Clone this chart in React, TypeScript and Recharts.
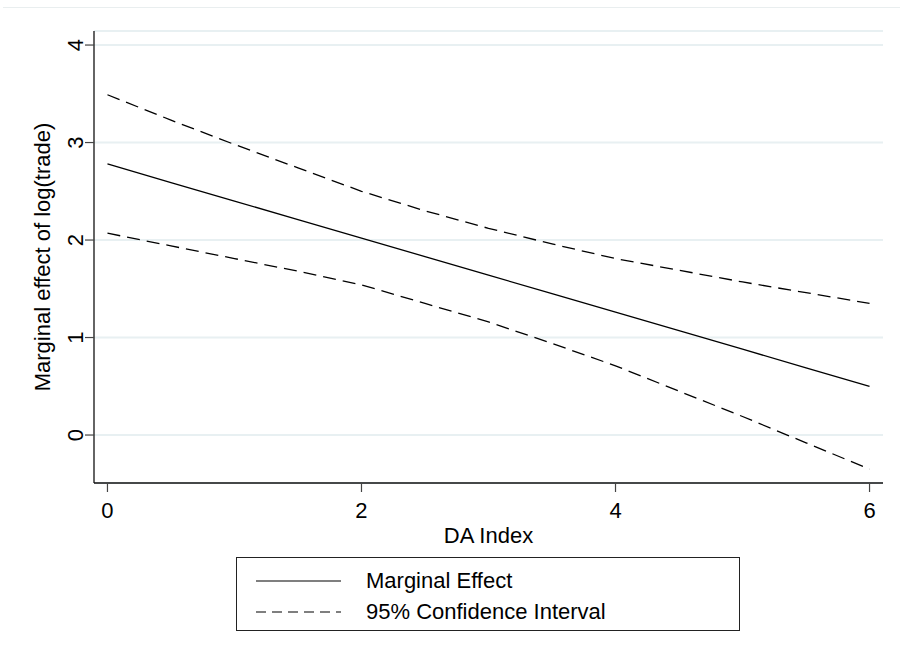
import React from "react";
import { LineChart, Line, XAxis, YAxis, CartesianGrid, Legend } from "recharts";

const daIndex = [0, 0.5, 1, 1.5, 2, 2.5, 3, 3.5, 4, 4.5, 5, 5.5, 6];
const marginalEffect = [2.78, 2.59, 2.40, 2.21, 2.02, 1.83, 1.64, 1.45, 1.26, 1.07, 0.88, 0.69, 0.50];
const ciUpper = [3.49, 3.23, 2.98, 2.74, 2.50, 2.30, 2.12, 1.96, 1.81, 1.69, 1.57, 1.46, 1.35];
const ciLower = [2.07, 1.94, 1.81, 1.68, 1.54, 1.35, 1.16, 0.94, 0.71, 0.45, 0.19, -0.08, -0.35];
const xTicks = [0, 2, 4, 6];
const yTicks = [0, 1, 2, 3, 4];
const legendOrder = ["me", "hi"];

const data = daIndex.map((x, i) => ({
  x,
  me: marginalEffect[i],
  hi: ciUpper[i],
  lo: ciLower[i],
}));

const FONT = "'Liberation Sans', Arial, Helvetica, sans-serif";
const FS = 22;

const XTick = (props: any) => {
  const { x, y, payload } = props;
  return (
    <text x={x} y={y + 24} textAnchor="middle" fontSize={FS} fontFamily={FONT} fill="#000">
      {payload.value}
    </text>
  );
};

const YTick = (props: any) => {
  const { x, y, payload } = props;
  return (
    <text
      x={x}
      y={y}
      textAnchor="middle"
      fontSize={FS}
      fontFamily={FONT}
      fill="#000"
      transform={`rotate(-90, ${x}, ${y})`}
    >
      {payload.value}
    </text>
  );
};

const LegendContent = (props: any) => {
  const all = (props.payload || []) as any[];
  const items = legendOrder
    .map((k) => all.find((it: any) => it.dataKey === k))
    .filter(Boolean) as any[];
  return (
    <div
      style={{
        boxSizing: "border-box",
        width: 504,
        height: 74,
        border: "1px solid #222",
        background: "#fff",
        fontFamily: FONT,
        fontSize: FS,
        paddingTop: 8,
      }}
    >
      {items.map((it: any, i: number) => (
        <div key={i} style={{ display: "flex", alignItems: "center", height: 30, marginBottom: i === 0 ? 1 : 0 }}>
          <svg width={129} height={30} style={{ flex: "none" }}>
            <line
              x1={19}
              x2={104}
              y1={15}
              y2={15}
              stroke="#000"
              strokeWidth={1.2}
              strokeDasharray={it.dataKey === "me" ? undefined : "10 6"}
            />
          </svg>
          <span style={{ color: "#000", lineHeight: "30px" }}>{it.value}</span>
        </div>
      ))}
    </div>
  );
};

export default function App() {
  return (
    <div style={{ position: "absolute", left: 0, top: 0, width: 905, height: 661, background: "#fff", fontFamily: FONT }}>
      <div style={{ position: "absolute", left: 3, top: 7, width: 897, height: 0, borderTop: "1px solid #e9eeef" }} />
      <LineChart
        width={905}
        height={661}
        data={data}
        margin={{ top: 31, right: 22, bottom: 148, left: 34 }}
      >
        <CartesianGrid vertical={false} stroke="#e8f0f2" strokeWidth={2} />
        <XAxis
          dataKey="x"
          type="number"
          domain={[-0.106, 6.106]}
          allowDataOverflow
          ticks={xTicks}
          height={30}
          tickSize={9}
          tickMargin={2}
          tick={<XTick />}
          axisLine={{ stroke: "#111", strokeWidth: 1.3 }}
          tickLine={{ stroke: "#444", strokeWidth: 1.2 }}
          label={{
            content: (p: any) => {
              const vb = p.viewBox;
              return (
                <text x={vb.x + vb.width / 2} y={vb.y + 60} textAnchor="middle" fontSize={FS} fontFamily={FONT} fill="#000">
                  DA Index
                </text>
              );
            },
          }}
        />
        <YAxis
          type="number"
          domain={[-0.492, 4.144]}
          allowDataOverflow
          ticks={yTicks}
          width={60}
          tickSize={9}
          tickMargin={2}
          tick={<YTick />}
          axisLine={{ stroke: "#111", strokeWidth: 1.3 }}
          tickLine={{ stroke: "#444", strokeWidth: 1.2 }}
          label={{
            content: (p: any) => {
              const vb = p.viewBox;
              const cx = vb.x + 16;
              const cy = vb.y + vb.height / 2;
              return (
                <text
                  x={cx}
                  y={cy}
                  textAnchor="middle"
                  fontSize={FS}
                  fontFamily={FONT}
                  fill="#000"
                  transform={`rotate(-90, ${cx}, ${cy})`}
                >
                  Marginal effect of log(trade)
                </text>
              );
            },
          }}
        />
        <Line
          dataKey="me"
          name="Marginal Effect"
          stroke="#000"
          strokeWidth={1.3}
          dot={false}
          activeDot={false}
          isAnimationActive={false}
        />
        <Line
          dataKey="hi"
          name="95% Confidence Interval"
          stroke="#000"
          strokeWidth={1.3}
          strokeDasharray="13 7"
          dot={false}
          activeDot={false}
          isAnimationActive={false}
        />
        <Line
          dataKey="lo"
          name="95% Confidence Interval (lower)"
          stroke="#000"
          strokeWidth={1.3}
          strokeDasharray="13 7"
          dot={false}
          activeDot={false}
          legendType="none"
          isAnimationActive={false}
        />
        <Legend
          layout="horizontal"
          verticalAlign="middle"
          align="center"
          width={504}
          height={74}
          wrapperStyle={{ left: 236, top: 557, width: 504, height: 74 }}
          content={<LegendContent />}
        />
      </LineChart>
    </div>
  );
}
